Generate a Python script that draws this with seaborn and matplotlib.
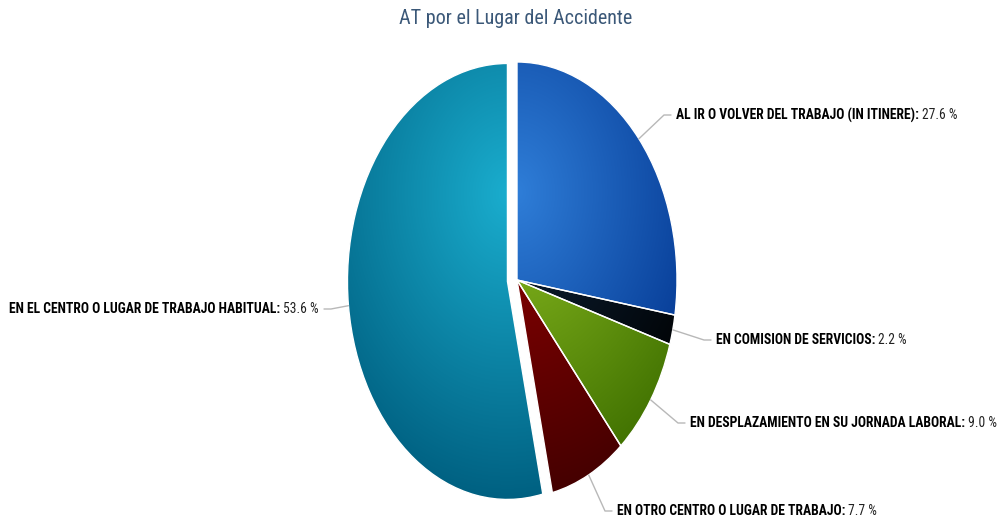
import numpy as np
import matplotlib
matplotlib.use('Agg')
import matplotlib.pyplot as plt
import seaborn as sns
from matplotlib import font_manager
from matplotlib.colors import to_rgb
from matplotlib.patches import PathPatch

# ---- data ----
categories = ['AL IR O VOLVER DEL TRABAJO (IN ITINERE)',
              'EN COMISION DE SERVICIOS',
              'EN DESPLAZAMIENTO EN SU JORNADA LABORAL',
              'EN OTRO CENTRO O LUGAR DE TRABAJO',
              'EN EL CENTRO O LUGAR DE TRABAJO HABITUAL']
values = [27.6, 2.2, 9.0, 7.7, 53.6]
value_labels = ['27.6 %', '2.2 %', '9.0 %', '7.7 %', '53.6 %']
colors_hex = ['#2f7ed8', '#0d233a', '#8bbc21', '#910000', '#1aadce']
explode = [0, 0, 0, 0, 0.06]
title = 'AT por el Lugar del Accidente'

sns.set_theme(style='white')

# pick a narrow font if one is installed
chosen = 'DejaVu Sans'
for fam in ['Liberation Sans Narrow', 'DejaVu Sans Condensed', 'Roboto Condensed',
            'Open Sans Condensed', 'Noto Sans Condensed', 'Arial Narrow']:
    try:
        font_manager.findfont(font_manager.FontProperties(family=fam),
                              fallback_to_default=False)
        chosen = fam
        break
    except Exception:
        pass
plt.rcParams['font.family'] = [chosen, 'DejaVu Sans']

palette = sns.color_palette(colors_hex)

W, H = 998, 525
fig = plt.figure(figsize=(W / 100, H / 100), dpi=100)

# pie geometry (pixels, y from top)
cx, cy, rx, ry = 517, 280, 160, 218
lim = 1.3
ax = fig.add_axes([(cx - rx * lim) / W, (H - cy - ry * lim) / H,
                   2 * rx * lim / W, 2 * ry * lim / H])
ax.axis('off')

wedges, _ = ax.pie(values, colors=palette, startangle=90, counterclock=False,
                   explode=explode,
                   wedgeprops=dict(edgecolor='white', linewidth=1))
ax.set_aspect('auto')

# radial gradient (Highcharts style: cx=0.5, cy=0.3, r=0.7 of pie box)
n = 500
xs = np.linspace(-lim, lim, n)
X, Y = np.meshgrid(xs, xs)
for w, col in zip(wedges, palette):
    c0 = np.array(to_rgb(col))
    c1 = np.clip(c0 - 0.3, 0, 1)
    ox, oy = w.center
    gx, gy = ox + 0.0, oy + 0.4
    d = np.clip(np.hypot(X - gx, Y - gy) / 1.4, 0, 1)[..., None]
    img = c0 * (1 - d) + c1 * d
    im = ax.imshow(img, extent=(-lim, lim, -lim, lim), origin='lower',
                   aspect='auto', zorder=1.5, interpolation='bilinear')
    im.set_clip_path(w)
    ax.add_patch(PathPatch(w.get_path(), fill=False, edgecolor='white',
                           lw=1, zorder=3))
ax.set_xlim(-lim, lim)
ax.set_ylim(-lim, lim)
ax.set_aspect('auto')

# overlay in pixel coordinates for labels
ov = fig.add_axes([0, 0, 1, 1], facecolor='none')
ov.set_xlim(0, W)
ov.set_ylim(H, 0)
ov.axis('off')

fig.canvas.draw()
renderer = fig.canvas.get_renderer()

# size fonts so that widths match the reference
probe = ov.text(0, 0, categories[0] + ':', fontsize=10, fontweight='bold')
pw = probe.get_window_extent(renderer).width
probe.remove()
fs = 10 * 244 / pw
probe = ov.text(0, 0, title, fontsize=10)
tw = probe.get_window_extent(renderer).width
probe.remove()
tfs = 10 * 233 / tw

label_pos = [(676, 115, 'left'), (716, 340, 'left'), (690, 423, 'left'),
             (617, 511, 'left'), (319, 309, 'right')]

for w, cat, vl, (tx, ty, ha) in zip(wedges, categories, value_labels, label_pos):
    mid = np.deg2rad((w.theta1 + w.theta2) / 2)
    ex = w.center[0] + w.r * np.cos(mid)
    ey = w.center[1] + w.r * np.sin(mid)
    px, py = ax.transData.transform((ex, ey))
    py = H - py
    if ha == 'left':
        ov.plot([px, tx - 12, tx - 5], [py, ty, ty], color='#b8b8b8', lw=1,
                solid_joinstyle='round')
        t1 = ov.text(tx, ty, cat + ':', ha='left', va='center', fontsize=fs,
                     fontweight='bold', color='black')
        bb = t1.get_window_extent(renderer)
        ov.text(bb.x1 + 3, ty, vl, ha='left', va='center', fontsize=fs,
                color='#222222')
    else:
        ov.plot([px, tx + 12, tx + 5], [py, ty, ty], color='#b8b8b8', lw=1)
        t2 = ov.text(tx, ty, vl, ha='right', va='center', fontsize=fs,
                     color='#222222')
        bb = t2.get_window_extent(renderer)
        ov.text(bb.x0 - 3, ty, cat + ':', ha='right', va='center', fontsize=fs,
                fontweight='bold', color='black')

fig.text(516 / W, 1 - 19 / H, title, ha='center', va='center', fontsize=tfs,
         color='#3b5878')

fig.savefig('out.png', dpi=100, facecolor='white')
